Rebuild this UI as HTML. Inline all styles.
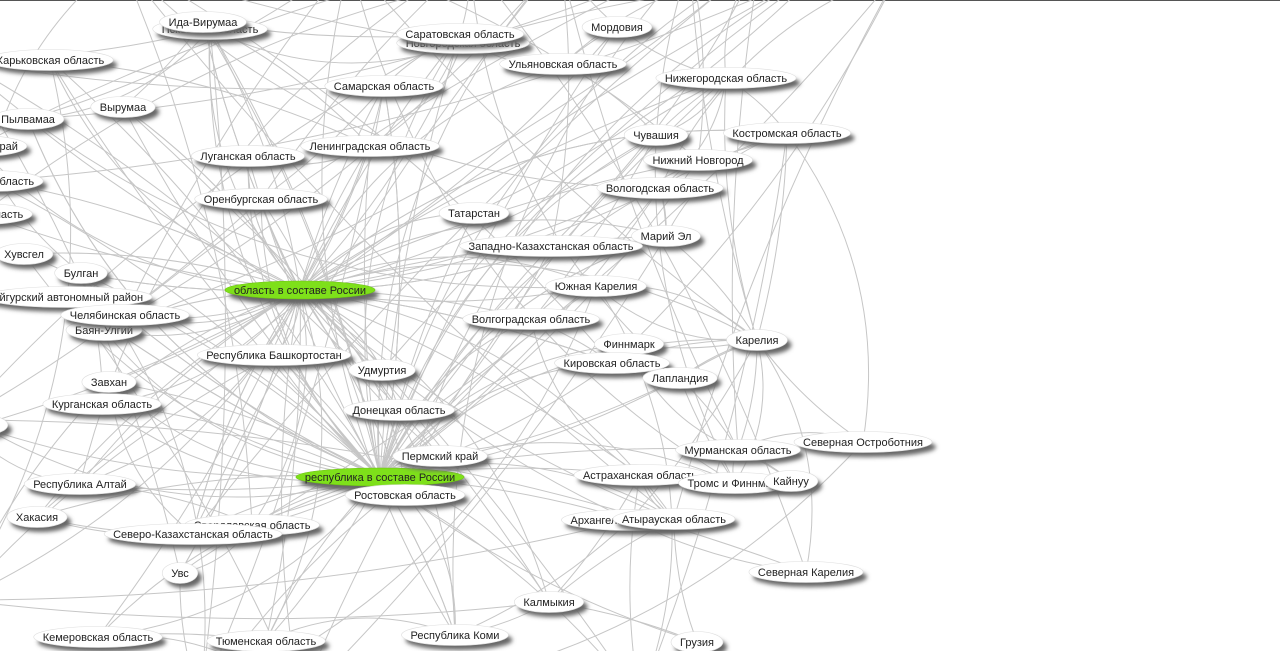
<!DOCTYPE html>
<html><head><meta charset="utf-8">
<style>
html,body{margin:0;padding:0;background:#fff;width:1280px;height:651px;overflow:hidden}
svg{display:block}
text{font-family:"Liberation Sans",Arial,sans-serif;font-size:11px;fill:#222}
</style></head>
<body>
<svg id="g" width="1280" height="651">
<defs>
<filter id="sh" x="-30%" y="-60%" width="160%" height="220%"><feGaussianBlur stdDeviation="2"/></filter>
<marker id="ar" viewBox="0 0 10 10" refX="10" refY="5" markerWidth="8" markerHeight="8" orient="auto"><path d="M0,1L10,5L0,9z" fill="#bdbdbd"/></marker>
</defs>
<line x1="0" y1="0.5" x2="1280" y2="0.5" stroke="#555"/>
<g id="edges"></g>
<g id="nodes"></g>
</svg>
<script>
const nodeLabels=["Псковская область","область в составе России","республика в составе России","Ида-Вирумаа","Харьковская область","Вырумаа","Пылвамаа","Алтайский край","Курская область","Омская область","Хувсгел","Булган","Уйгурский автономный район","Баян-Улгий","Челябинская область","Завхан","Курганская область","Москва","Республика Алтай","Хакасия","Свердловская область","Северо-Казахстанская область","Увс","Кемеровская область","Тюменская область","Республика Коми","Калмыкия","Грузия","Новгородская область","Саратовская область","Ульяновская область","Мордовия","Нижегородская область","Самарская область","Чувашия","Костромская область","Нижний Новгород","Ленинградская область","Луганская область","Вологодская область","Оренбургская область","Татарстан","Марий Эл","Западно-Казахстанская область","Южная Карелия","Волгоградская область","Финнмарк","Карелия","Республика Башкортостан","Удмуртия","Кировская область","Лапландия","Донецкая область","Северная Остроботния","Мурманская область","Пермский край","Архангельская область","Астраханская область","Тромс и Финнмарк","Кайнуу","Ростовская область","Атырауская область","Северная Карелия"];
const nodeX=[210,300,380,203,50,123,28,-22,-8,-18,24,81,68,104,125,109,102,-20,80,37,252,193,180,98,266,455,549,697,463,460,563,617,726,384,656,787,698,370,248,660,261,474,666,551,596,531,629,757,274,382,612,680,399,863,738,440,630,640,735,791,405,674,806];
const nodeY=[29,290,477,22,60,107,119,146,181,214,254,273,297,330,315,382,404,425,484,517,525,534,573,637,641,635,602,642,43,34,64,27,78,86,135,133,160,146,156,188,199,213,236,246,286,319,344,340,355,370,363,378,410,442,450,456,520,475,483,481,495,519,572];
const hubA=[0,3,4,5,6,7,8,9,14,16,17,20,21,23,24,28,29,30,33,37,38,39,40,41,43,45,48,49,50,52,55,57,60,61,32,35,34,26,25,36,42,44,10,11,12,13,15,18,19,22];
const hubB=[10,11,12,13,15,18,19,22,25,26,27,31,34,36,41,42,48,49,55,60,14,16,20,21,23,24,32,35,39,44,46,50,54,47,51,56,58,3,29,0,4,5,6,33,37,38,40,43,45,52,57,61];
const extraFrom=[47,47,47,47,47,54,54,54,53,53,59,62,62,46,46,51,51,44,42,42,39,39,36,34,32,32,35,30,31,29,28,45,45,50,50,57,61,56,58,4,5,6,3,3,0,11,13,15,18,19,22,23,24,25,26,27,37,33,40,38,27,26,25,56,61,53,47];
const extraTo=[46,51,44,54,35,58,59,51,54,47,54,47,56,44,54,47,58,47,47,39,32,42,35,32,35,34,42,34,30,30,29,39,57,47,45,61,57,47,47,37,3,0,37,29,28,16,14,21,20,21,20,20,23,24,25,26,29,29,33,37,61,57,60,25,26,35,32];
const ghostX=[-40,-40,350,560,900,640,300,820,-40,200,470,690,760,120];
const ghostY=[60,420,-40,-40,-30,700,700,-30,600,700,-40,-40,-40,-40];

const NS="http://www.w3.org/2000/svg";
const E=document.getElementById('edges'),N=document.getElementById('nodes');
function edge(x1,y1,x2,y2,k){
  const mx=(x1+x2)/2,my=(y1+y2)/2,dx=x2-x1,dy=y2-y1;
  const c=0.15*((k%3)-1+0.4);
  const cx=mx-dy*c,cy=my+dx*c;
  const p=document.createElementNS(NS,'path');
  p.setAttribute('d',`M${x1},${y1}Q${cx},${cy} ${x2},${y2}`);
  p.setAttribute('fill','none');p.setAttribute('stroke','#c6c6c6');p.setAttribute('stroke-width','1');
  p.setAttribute('marker-end','url(#ar)');
  
  
  E.appendChild(p);
}
let k=0;
hubA.forEach(i=>{edge(nodeX[i],nodeY[i],nodeX[1],nodeY[1],k++);});
hubB.forEach(i=>{edge(nodeX[i],nodeY[i],nodeX[2],nodeY[2],k++);});
hubA.forEach((i,j)=>{if(j%2==0)edge(nodeX[i],nodeY[i],nodeX[2],nodeY[2],k++);});
hubB.forEach((i,j)=>{if(j%2==1)edge(nodeX[i],nodeY[i],nodeX[1],nodeY[1],k++);});
extraFrom.forEach((a,j)=>{const b=extraTo[j];edge(nodeX[a],nodeY[a],nodeX[b],nodeY[b],k++);});
ghostX.forEach((gx,j)=>{
  for(let t=0;t<6;t++){const i=(j*7+t*11)%nodeLabels.length;edge(gx,ghostY[j],nodeX[i],nodeY[i],k++);}
});
nodeLabels.forEach((lab,i)=>{
  const g=document.createElementNS(NS,'g');
  
  
  const t=document.createElementNS(NS,'text');
  t.setAttribute('x',nodeX[i]);t.setAttribute('y',nodeY[i]+4);t.setAttribute('text-anchor','middle');
  t.textContent=lab;
  N.appendChild(g);g.appendChild(t);
  const w=t.getComputedTextLength()/2+9;
  const hub=(i==1||i==2);
  const s=document.createElementNS(NS,'ellipse');
  s.setAttribute('cx',nodeX[i]+4);s.setAttribute('cy',nodeY[i]+5);s.setAttribute('rx',w);s.setAttribute('ry',10);
  s.setAttribute('fill','#666');s.setAttribute('filter','url(#sh)');
  
  
  const e=document.createElementNS(NS,'ellipse');
  e.setAttribute('cx',nodeX[i]);e.setAttribute('cy',nodeY[i]);e.setAttribute('rx',w);e.setAttribute('ry',hub?9:10.5);
  e.setAttribute('fill',hub?'#7ee01a':'#fff');e.setAttribute('stroke',hub?'#6cc010':'#ddd');e.setAttribute('stroke-width','0.6');
  
  
  g.insertBefore(e,t);g.insertBefore(s,e);
});
</script>
</body></html>
